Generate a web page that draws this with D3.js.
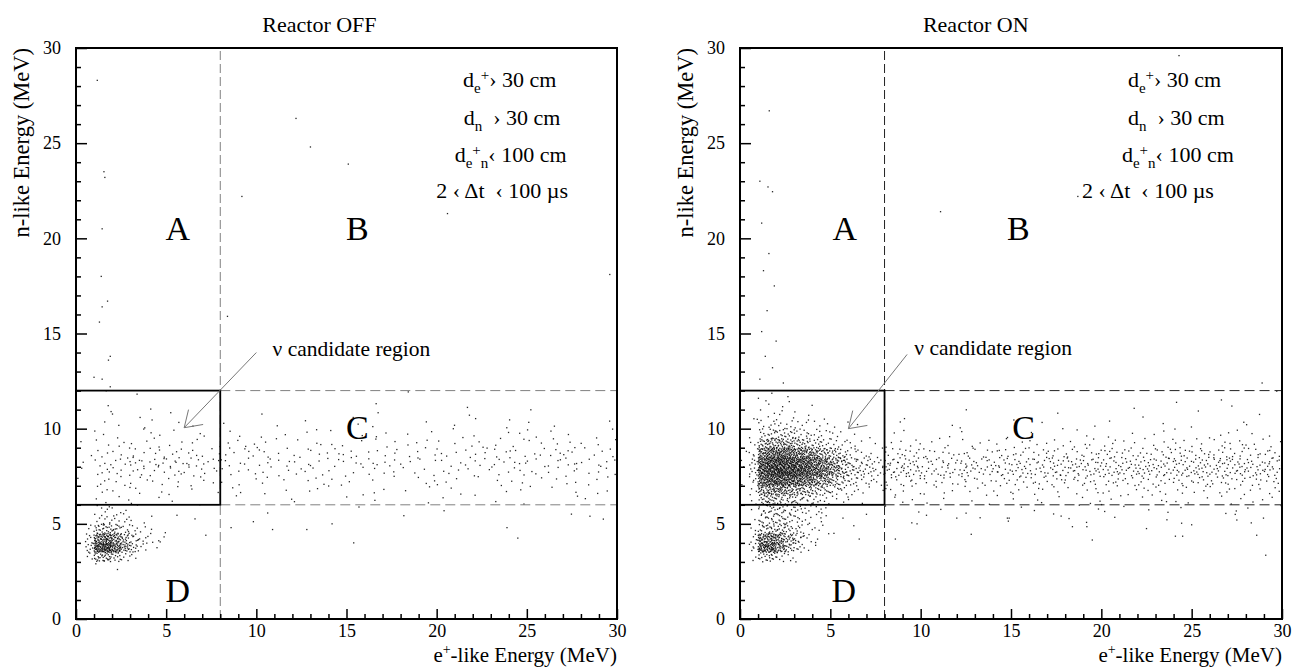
<!DOCTYPE html>
<html>
<head>
<meta charset="utf-8">
<style>
  body { margin: 0; background: #fff; }
  svg text { font-family: "Liberation Serif", "Times New Roman", Tinos, "DejaVu Serif", "Noto Serif", serif; fill: #000; }
  .cut { white-space: pre; }
</style>
</head>
<body>
<script src="https://d3js.org/d3.v7.min.js"></script>
<script>
// ---- data (MeV) ----
const panelTitles = ["Reactor OFF", "Reactor ON"];
const titleX = [13.5, 13.05];
const majorTicks = [0, 5, 10, 15, 20, 25, 30];
const minorTicks = [1,2,3,4,6,7,8,9,11,12,13,14,16,17,18,19,21,22,23,24,26,27,28,29];
const regionLetters = ["A", "B", "C", "D"];
const offLetterPos = [[5.65, 19.9], [15.6, 19.9], [15.6, 9.45], [5.65, 0.9]];
const onLetterPos  = [[5.8, 19.9], [15.4, 19.9], [15.7, 9.45], [5.75, 0.9]];

// cut lines: segments [text, mode] with mode "" / "sub" / "sup"
const cutText = [
  [["d", ""], ["e", "sub"], ["+", "sup"], ["› 30 cm", ""]],
  [["d", ""], ["n", "sub"], ["  › 30 cm", ""]],
  [["d", ""], ["e", "sub"], ["+", "sup"], ["n", "sub"], ["‹ 100 cm", ""]],
  [["2 ‹ Δt  ‹ 100 µs", ""]]
];
const offCutPos = [[21.46, 27.96], [21.5, 25.96], [21.0, 24.03], [19.97, 22.1]];
const onCutPos  = [[21.47, 27.96], [21.47, 25.96], [21.14, 24.03], [18.93, 22.1]];

// candidate box and cut lines
const boxX = [0, 8], boxY = [6, 12];
// arrow: [tail, tip, barb1, barb2]
const offArrow = [[10.0, 14.0], [6.0, 10.05], [6.24, 11.0], [7.05, 10.22]];
const onArrow  = [[9.25, 13.9], [6.0, 10.0], [6.24, 10.95], [7.05, 10.17]];
const offLabelPos = [10.9, 13.8];
const onLabelPos  = [9.65, 13.85];

// density tables (counts per bin, rows bottom -> top)
const dBinsX = [0, 0.5, 1, 1.5, 2, 2.5, 3, 3.5, 4, 4.5, 5];
const dBinsY = [3, 3.5, 4, 4.5, 5, 5.5, 6];
const offBoxBinsX = [0, 1, 2, 3, 4, 5, 6, 7, 8];
const onBoxBinsX = [0, 0.5, 1, 1.5, 2, 2.5, 3, 3.5, 4, 4.5, 5, 5.5, 6, 6.5, 7, 7.5, 8];
const boxBinsY = [6, 6.5, 7, 7.5, 8, 8.5, 9, 9.5, 10, 10.5, 11, 11.5, 12];
const bandBinsX = [8, 10, 12, 14, 16, 18, 20, 22, 24, 26, 28, 30];
const bandBinsY = [5, 5.5, 6, 6.5, 7, 7.5, 8, 8.5, 9, 9.5, 10, 10.5, 11, 11.5, 12];

const offD = [
  [0, 3, 15, 18, 10, 5, 2, 0, 0, 0],
  [0, 8, 50, 55, 38, 20, 10, 4, 1, 0],
  [0, 6, 32, 38, 26, 15, 8, 4, 2, 2],
  [0, 2, 12, 14, 10, 6, 3, 2, 1, 1],
  [0, 0, 4, 5, 4, 3, 1, 1, 0, 0],
  [0, 0, 2, 3, 2, 2, 1, 0, 0, 0]
];
const offBox = [
  [0, 2, 2, 1, 1, 1, 1, 0],
  [0, 3, 2, 2, 1, 2, 1, 1],
  [1, 3, 3, 3, 2, 2, 2, 2],
  [1, 4, 4, 4, 4, 4, 4, 3],
  [1, 4, 5, 6, 6, 6, 5, 4],
  [1, 3, 3, 3, 4, 3, 3, 3],
  [1, 2, 2, 2, 2, 2, 2, 1],
  [0, 2, 1, 1, 2, 1, 1, 1],
  [0, 1, 1, 1, 1, 1, 1, 0],
  [0, 1, 1, 1, 0, 1, 0, 0],
  [0, 1, 0, 0, 1, 0, 0, 0],
  [0, 1, 0, 1, 0, 0, 0, 0]
];
const offBand = [
  [1, 0, 0, 0, 0, 1, 0, 0, 0, 0, 1],
  [0, 1, 0, 1, 0, 0, 1, 0, 0, 1, 0],
  [1, 1, 1, 1, 1, 1, 1, 1, 1, 1, 1],
  [2, 2, 2, 2, 2, 2, 2, 2, 2, 2, 2],
  [3, 3, 3, 3, 2, 3, 3, 3, 3, 3, 3],
  [5, 4, 5, 4, 4, 4, 4, 5, 5, 5, 4],
  [6, 6, 6, 6, 6, 5, 5, 6, 7, 7, 6],
  [6, 5, 5, 5, 5, 4, 5, 6, 6, 6, 5],
  [4, 3, 3, 3, 3, 3, 3, 4, 4, 4, 3],
  [2, 2, 2, 2, 2, 2, 2, 2, 3, 2, 2],
  [1, 1, 1, 1, 1, 1, 1, 1, 2, 1, 1],
  [0, 1, 0, 1, 1, 0, 1, 1, 1, 0, 0],
  [0, 0, 0, 0, 1, 0, 1, 0, 0, 0, 0],
  [0, 0, 0, 0, 0, 1, 0, 0, 0, 0, 0]
];
const onD = [
  [0, 2, 10, 10, 6, 3, 1, 0, 0, 0],
  [0, 6, 42, 45, 26, 14, 6, 2, 1, 0],
  [0, 5, 30, 35, 26, 17, 9, 4, 2, 1],
  [0, 2, 10, 12, 12, 9, 6, 3, 2, 1],
  [0, 1, 7, 9, 9, 7, 5, 3, 2, 2],
  [0, 1, 7, 9, 9, 7, 6, 4, 3, 2]
];
const onBox = [
  [0, 2, 12, 14, 12, 10, 9, 7, 5, 3, 2, 2, 1, 1, 0, 0],
  [0, 3, 22, 26, 26, 22, 18, 15, 12, 9, 6, 4, 3, 2, 1, 1],
  [1, 5, 38, 46, 48, 45, 40, 35, 28, 22, 14, 9, 6, 4, 3, 2],
  [1, 7, 48, 58, 62, 58, 54, 48, 42, 34, 24, 15, 9, 7, 6, 5],
  [1, 6, 45, 55, 58, 54, 50, 45, 38, 30, 22, 14, 8, 6, 5, 4],
  [1, 4, 30, 38, 40, 37, 33, 28, 22, 17, 12, 7, 4, 3, 2, 1],
  [0, 2, 15, 20, 20, 17, 14, 11, 8, 6, 4, 3, 2, 1, 1, 0],
  [0, 1, 6, 8, 9, 8, 6, 5, 4, 3, 2, 1, 1, 0, 1, 0],
  [0, 1, 3, 4, 4, 3, 3, 2, 2, 1, 1, 1, 0, 1, 0, 0],
  [0, 1, 1, 2, 2, 1, 1, 1, 0, 1, 0, 0, 0, 0, 0, 0],
  [0, 0, 1, 1, 1, 1, 0, 1, 0, 0, 0, 0, 0, 0, 0, 0],
  [0, 0, 1, 1, 0, 1, 0, 0, 0, 0, 0, 0, 0, 0, 0, 0]
];
const onBand = [
  [1, 1, 1, 1, 1, 2, 1, 1, 1, 1, 1],
  [2, 1, 1, 1, 2, 2, 2, 2, 1, 2, 2],
  [3, 2, 2, 2, 3, 3, 3, 3, 3, 3, 3],
  [6, 4, 4, 5, 5, 5, 5, 6, 6, 6, 5],
  [12, 8, 9, 10, 10, 11, 11, 11, 12, 12, 10],
  [22, 16, 17, 18, 19, 20, 20, 21, 22, 22, 19],
  [20, 14, 15, 16, 17, 18, 18, 19, 20, 20, 17],
  [12, 8, 9, 10, 10, 11, 11, 12, 12, 12, 10],
  [6, 3, 4, 4, 5, 5, 5, 5, 6, 6, 5],
  [2, 1, 1, 2, 2, 2, 2, 2, 2, 3, 2],
  [1, 1, 1, 1, 1, 1, 1, 1, 1, 1, 1],
  [1, 0, 1, 0, 1, 0, 0, 1, 1, 0, 1],
  [0, 0, 0, 0, 0, 0, 1, 0, 1, 1, 0],
  [0, 0, 0, 0, 0, 0, 0, 0, 0, 1, 1]
];

// isolated events
const offSparse = [
  [1.18, 28.3], [1.55, 23.5], [1.6, 23.2], [1.45, 20.5], [1.4, 18.0], [1.75, 16.7], [1.45, 16.4],
  [1.3, 15.6], [1.9, 13.8], [1.8, 13.6], [1.0, 12.7], [1.45, 12.6], [1.9, 12.2],
  [12.2, 26.3], [13.0, 24.8], [15.1, 23.9], [9.2, 22.2], [8.4, 15.9], [20.6, 21.3], [26.9, 24.0], [29.6, 18.1],
  [10.9, 4.7], [12.8, 4.7], [15.4, 4.0], [14.2, 5.0], [23.9, 4.8], [24.5, 4.25], [28.5, 5.4],
  [4.2, 5.4], [4.67, 4.05], [7.2, 4.4], [5.6, 5.45], [6.6, 5.26], [8.6, 4.8], [2.3, 2.6], [1.1, 2.9]
];
const onSparse = [
  [1.62, 26.7], [1.1, 23.0], [1.55, 22.7], [1.8, 22.45], [1.2, 20.8], [1.6, 19.2], [1.3, 18.3],
  [1.9, 17.5], [1.5, 16.2], [1.2, 15.1], [2.0, 14.6], [1.4, 13.8], [1.8, 13.2], [1.1, 12.6], [2.4, 12.4],
  [11.1, 21.4], [18.7, 22.2], [24.3, 29.6], [28.9, 12.4],
  [14.9, 5.3], [18.4, 4.85], [19.2, 4.85], [19.5, 4.15], [22.5, 4.75], [24.1, 4.35], [24.5, 4.35],
  [25.0, 4.95], [28.3, 5.05], [28.6, 4.4], [29.1, 3.35], [27.5, 5.2], [9.8, 5.0], [8.6, 4.2],
  [12.8, 4.45], [14.8, 5.3], [12.0, 5.3], [5.7, 5.3], [6.3, 4.9], [7.0, 5.5], [6.6, 4.2], [5.2, 4.5]
];

// ---- setup ----
const W = 1301, H = 667;
const plotTop = 48, plotBottom = 619;
const serif = '"Liberation Serif", "Times New Roman", Tinos, "DejaVu Serif", serif';
const svg = d3.select("body").append("svg").attr("width", W).attr("height", H);

// spread the counted events of one bin over the bin (low-discrepancy sequence)
let seed = 0;
function halton(i, b) { let f = 1, r = 0; while (i > 0) { f /= b; r += f * (i % b); i = Math.floor(i / b); } return r; }
function expand(binsX, binsY, counts) {
  const pts = [];
  counts.forEach((row, j) => row.forEach((n, i) => {
    for (let k = 0; k < n; k++) {
      seed += 17;
      pts.push([binsX[i] + halton(seed, 2) * (binsX[i + 1] - binsX[i]),
                binsY[j] + halton(seed, 3) * (binsY[j + 1] - binsY[j])]);
    }
  }));
  return pts;
}

const panels = [
  { left: 76, right: 617, title: panelTitles[0], tx: titleX[0], letters: offLetterPos, cuts: offCutPos,
    arrow: offArrow, label: offLabelPos, dash: "#808080",
    events: [].concat(expand(dBinsX, dBinsY, offD), expand(offBoxBinsX, boxBinsY, offBox),
                      expand(bandBinsX, bandBinsY, offBand), offSparse) },
  { left: 740, right: 1282, title: panelTitles[1], tx: titleX[1], letters: onLetterPos, cuts: onCutPos,
    arrow: onArrow, label: onLabelPos, dash: "#222",
    events: [].concat(expand(dBinsX, dBinsY, onD), expand(onBoxBinsX, boxBinsY, onBox),
                      expand(bandBinsX, bandBinsY, onBand), onSparse) }
];

panels.forEach(p => {
  const x = d3.scaleLinear().domain([0, 30]).range([p.left, p.right]);
  const y = d3.scaleLinear().domain([0, 30]).range([plotBottom, plotTop]);
  const g = svg.append("g").attr("font-family", serif);

  // events
  g.append("g").selectAll("rect").data(p.events).join("rect")
    .attr("x", d => x(d[0]) - 0.65).attr("y", d => y(d[1]) - 0.65)
    .attr("width", 1.3).attr("height", 1.3).attr("fill", "#000").attr("opacity", 0.85);

  // region dividing lines
  g.append("line").attr("x1", x(8)).attr("x2", x(8)).attr("y1", y(0)).attr("y2", y(30))
    .attr("stroke", p.dash).attr("stroke-dasharray", "9,4");
  [6, 12].forEach(v => g.append("line").attr("x1", x(8)).attr("x2", x(30)).attr("y1", y(v)).attr("y2", y(v))
    .attr("stroke", p.dash).attr("stroke-dasharray", "10,5"));

  // candidate box
  g.append("rect").attr("x", x(boxX[0])).attr("y", y(boxY[1]))
    .attr("width", x(boxX[1]) - x(boxX[0])).attr("height", y(boxY[0]) - y(boxY[1]))
    .attr("fill", "none").attr("stroke", "#000").attr("stroke-width", 1.8);

  // frame
  g.append("rect").attr("x", p.left).attr("y", plotTop).attr("width", p.right - p.left)
    .attr("height", plotBottom - plotTop)
    .attr("fill", "none").attr("stroke", "#000").attr("stroke-width", 2);

  // axes
  const styleAxis = a => {
    a.select(".domain").remove();
    a.attr("font-family", serif).attr("font-size", 18);
    a.selectAll("line").attr("stroke-width", 1.5);
  };
  g.append("g").attr("transform", `translate(0,${plotBottom})`)
    .call(d3.axisBottom(x).tickValues(minorTicks).tickSize(-5).tickFormat("")).call(styleAxis);
  g.append("g").attr("transform", `translate(0,${plotBottom})`)
    .call(d3.axisBottom(x).tickValues(majorTicks).tickSize(-10).tickPadding(5)).call(styleAxis);
  g.append("g").attr("transform", `translate(${p.left},0)`)
    .call(d3.axisLeft(y).tickValues(minorTicks).tickSize(-5).tickFormat("")).call(styleAxis);
  g.append("g").attr("transform", `translate(${p.left},0)`)
    .call(d3.axisLeft(y).tickValues(majorTicks).tickSize(-11).tickPadding(15)).call(styleAxis);

  // titles
  g.append("text").attr("x", x(p.tx)).attr("y", 32).attr("text-anchor", "middle")
    .attr("font-size", 22).text(p.title);
  g.append("text").attr("transform", `translate(${p.left - 47},${plotTop}) rotate(-90)`)
    .attr("text-anchor", "end").attr("font-size", 22.5).text("n-like Energy (MeV)");
  const xl = g.append("text").attr("x", p.right).attr("y", 662).attr("text-anchor", "end").attr("font-size", 21);
  xl.append("tspan").text("e");
  xl.append("tspan").attr("dy", -8).attr("font-size", 14).text("+");
  xl.append("tspan").attr("dy", 8).text("-like Energy (MeV)");

  // region letters
  g.selectAll(".letter").data(regionLetters).join("text").attr("class", "letter")
    .attr("x", (d, i) => x(p.letters[i][0])).attr("y", (d, i) => y(p.letters[i][1]))
    .attr("text-anchor", "middle").attr("font-size", 34).text(d => d);

  // cut conditions
  cutText.forEach((segs, i) => {
    const t = g.append("text").attr("class", "cut").attr("x", x(p.cuts[i][0])).attr("y", y(p.cuts[i][1]))
      .attr("font-size", 22);
    let shift = 0;
    segs.forEach(([s, mode]) => {
      const target = mode === "sub" ? 6 : mode === "sup" ? -7 : 0;
      t.append("tspan").attr("dy", target - shift).attr("font-size", mode ? 15 : 22).text(s);
      shift = target;
    });
  });

  // arrow to candidate region
  const [tail, tip, b1, b2] = p.arrow;
  [[tail, tip], [tip, b1], [tip, b2]].forEach(([a, b]) =>
    g.append("line").attr("x1", x(a[0])).attr("y1", y(a[1])).attr("x2", x(b[0])).attr("y2", y(b[1]))
      .attr("stroke", "#777").attr("stroke-width", 1));
  g.append("text").attr("x", x(p.label[0])).attr("y", y(p.label[1])).attr("font-size", 21.5)
    .text("ν candidate region");
});
</script>
</body>
</html>
